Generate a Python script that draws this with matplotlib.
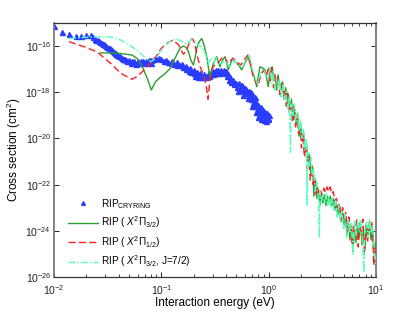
import numpy as np
import matplotlib
matplotlib.use("Agg")
import matplotlib.pyplot as plt
from matplotlib.ticker import LogLocator, NullFormatter, FixedLocator

plt.rcParams['font.family'] = ['Liberation Sans', 'DejaVu Sans']
plt.rcParams['mathtext.fontset'] = 'custom'
plt.rcParams['mathtext.rm'] = 'Liberation Sans'
plt.rcParams['mathtext.it'] = 'Liberation Sans:italic'
plt.rcParams['mathtext.bf'] = 'Liberation Sans:bold'

# ---------------- data (energies in eV, log10 of cross section in cm^2) -------------
cry_E = [0.0100, 0.0118, 0.0139, 0.0160, 0.0178, 0.0198, 0.0219, 0.0240, 0.0255, 0.0270,
         0.0285, 0.0300, 0.0315, 0.0330, 0.0345, 0.0360, 0.0375, 0.0390, 0.0410, 0.0430,
         0.0450, 0.0470, 0.0500, 0.053, 0.056, 0.060, 0.064, 0.068, 0.072, 0.076,
         0.080, 0.085, 0.090, 0.095, 0.100, 0.107, 0.115, 0.123, 0.132, 0.141,
         0.150, 0.160, 0.170, 0.180, 0.190, 0.200, 0.212, 0.225, 0.240, 0.255,
         0.270, 0.290, 0.310, 0.330, 0.350, 0.370, 0.390, 0.410, 0.430, 0.450,
         0.480, 0.510, 0.540, 0.570, 0.600, 0.630, 0.660, 0.690, 0.720, 0.750,
         0.780, 0.820, 0.860, 0.900, 0.950, 0.990,
         0.052, 0.058, 0.065, 0.072, 0.080, 0.110, 0.125, 0.140, 0.155, 0.170,
         0.185, 0.200, 0.215, 0.230, 0.250, 0.280, 0.300, 0.320, 0.340, 0.360,
         0.380, 0.400, 0.420, 0.440, 0.465, 0.495,
         0.520, 0.580, 0.640, 0.700, 0.730, 0.760, 0.800, 0.840, 0.880, 0.920,
         0.960, 0.760, 0.800, 0.850, 0.900, 0.950, 1.000, 0.700, 0.660, 0.620,
         0.560, 0.530, 0.600, 0.680, 0.740, 0.820, 0.870, 0.930, 0.980,
         0.0232, 0.0248, 0.0262, 0.0278, 0.0292, 0.0308, 0.0322, 0.0338, 0.0352, 0.0368,
         0.0382, 0.0400, 0.0420, 0.0440, 0.0460, 0.0480,
         0.205, 0.218, 0.232, 0.247, 0.262, 0.280, 0.300, 0.320, 0.345]
cry_logS = [-15.15, -15.37, -15.46, -15.56, -15.57, -15.54, -15.50, -15.68, -15.75, -15.83,
            -15.90, -15.97, -16.03, -16.10, -16.15, -16.25, -16.30, -16.38, -16.45, -16.52,
            -16.56, -16.60, -16.62, -16.64, -16.65, -16.66, -16.65, -16.64, -16.63, -16.62,
            -16.60, -16.56, -16.50, -16.52, -16.58, -16.65, -16.70, -16.73, -16.76, -16.80,
            -16.84, -16.90, -17.00, -17.07, -17.13, -17.18, -17.25, -17.30, -17.30, -17.28,
            -17.25, -17.20, -17.15, -17.12, -17.12, -17.14, -17.18, -17.30, -17.45, -17.55,
            -17.65, -17.75, -17.85, -17.92, -17.97, -18.05, -18.15, -18.30, -18.45, -18.60,
            -18.75, -18.85, -18.95, -19.00, -19.05, -19.10,
            -16.74, -16.76, -16.75, -16.73, -16.72, -16.60, -16.64, -16.70, -16.76, -16.86,
            -16.95, -17.05, -17.12, -17.18, -17.22, -17.16, -17.08, -17.04, -17.02, -17.03,
            -17.05, -17.08, -17.20, -17.35, -17.48, -17.58,
            -17.95, -18.10, -18.25, -18.15, -18.35, -18.40, -18.55, -18.65, -18.75, -18.85,
            -18.90, -18.85, -19.05, -19.15, -19.20, -19.25, -19.00, -18.60, -17.95, -17.85,
            -17.70, -17.62, -17.80, -18.00, -18.20, -18.70, -18.80, -18.95, -19.15,
            -15.62, -15.72, -15.79, -15.87, -15.93, -16.00, -16.07, -16.13, -16.20, -16.28,
            -16.34, -16.42, -16.49, -16.54, -16.58, -16.63,
            -17.28, -17.33, -17.36, -17.35, -17.32, -17.28, -17.22, -17.18, -17.18]

x32_E = [0.0272, 0.0340, 0.0419, 0.0537, 0.0600, 0.0665, 0.0740, 0.0807, 0.0880, 0.0973,
         0.108, 0.1205, 0.135, 0.149, 0.160, 0.170, 0.179, 0.190, 0.199, 0.207,
         0.215, 0.226, 0.238, 0.250, 0.265, 0.275, 0.284, 0.295, 0.305, 0.328,
         0.352, 0.372, 0.393, 0.421, 0.453, 0.480, 0.505, 0.530, 0.561, 0.605,
         0.647, 0.695, 0.740, 0.774, 0.800, 0.830, 0.880, 0.925, 0.960, 0.990,
         1.04, 1.08, 1.12, 1.15, 1.19, 1.22, 1.26, 1.31, 1.35, 1.39,
         1.44, 1.49, 1.53, 1.58, 1.63, 1.69, 1.74, 1.80, 1.86, 1.92,
         1.98, 2.04, 2.11, 2.18, 2.25, 2.32, 2.40, 2.48, 2.56, 2.64,
         2.73, 2.82, 2.91, 3.00, 3.10, 3.20, 3.30, 3.41, 3.52, 3.64,
         3.76, 3.88, 4.00, 4.14, 4.27, 4.41, 4.56, 4.71, 4.86, 5.02,
         5.19, 5.36, 5.53, 5.71, 5.90, 6.10, 6.30, 6.50, 6.71, 6.93,
         7.16, 7.40, 7.64, 7.89, 8.15, 8.42, 8.70, 8.98, 9.28, 9.58, 9.90, 10.0]
x32_logS = [-16.29, -16.30, -16.32, -16.39, -16.55, -16.90, -17.40, -17.90, -17.55, -17.36,
            -17.20, -16.97, -16.50, -16.10, -16.00, -16.05, -16.25, -16.65, -16.82, -16.45,
            -16.05, -15.80, -15.67, -15.95, -16.46, -16.95, -17.33, -17.00, -16.75, -16.46,
            -16.90, -16.60, -16.46, -17.03, -16.60, -16.65, -16.75, -16.85, -17.03, -16.70,
            -16.46, -17.03, -17.40, -17.76, -17.30, -16.90, -16.95, -17.03, -17.40, -17.76,
            -17.00, -16.90, -17.50, -17.30, -17.90, -17.25, -17.60, -17.90, -17.55, -18.30,
            -17.80, -18.50, -18.10, -18.80, -18.30, -19.20, -18.70, -19.40, -18.90, -19.90,
            -19.30, -20.10, -19.70, -20.60, -20.20, -21.10, -20.70, -21.60, -21.20, -22.50,
            -21.80, -22.60, -22.20, -22.90, -22.40, -22.80, -22.45, -22.90, -22.50, -22.80,
            -22.50, -22.90, -22.60, -23.10, -22.80, -23.30, -22.90, -23.60, -23.10, -23.80,
            -23.30, -24.20, -23.50, -24.40, -23.70, -24.90, -23.90, -24.50, -23.70, -24.30,
            -23.60, -24.60, -23.90, -24.80, -23.70, -24.20, -23.60, -24.40, -24.00, -25.00, -24.50, -24.60]

x12_E = [0.0138, 0.0191, 0.0252, 0.0337, 0.0419, 0.0533, 0.0600, 0.0690, 0.0855, 0.0980,
         0.110, 0.128, 0.145, 0.160, 0.172, 0.185, 0.195, 0.205, 0.215, 0.230,
         0.248, 0.262, 0.272, 0.282, 0.295, 0.314, 0.340, 0.380, 0.420, 0.466,
         0.510, 0.550, 0.590, 0.640, 0.680, 0.710, 0.750, 0.795, 0.840, 0.890, 0.950,
         1.00, 1.03, 1.07, 1.11, 1.14, 1.18, 1.23, 1.27, 1.32, 1.37,
         1.42, 1.46, 1.51, 1.56, 1.61, 1.66, 1.72, 1.78, 1.84, 1.90,
         1.96, 2.02, 2.08, 2.15, 2.22, 2.29, 2.36, 2.44, 2.52, 2.60,
         2.68, 2.77, 2.86, 2.96, 3.06, 3.16, 3.27, 3.38, 3.50, 3.62,
         3.74, 3.87, 4.00, 4.13, 4.28, 4.42, 4.57, 4.73, 4.89, 5.06,
         5.23, 5.41, 5.59, 5.78, 5.98, 6.18, 6.39, 6.61, 6.83, 7.06,
         7.30, 7.55, 7.80, 8.07, 8.35, 8.63, 8.92, 9.22, 9.53, 9.85, 10.0]
x12_logS = [-15.81, -16.03, -16.25, -16.75, -17.18, -17.44, -17.30, -17.04, -16.60, -16.15,
            -15.90, -15.74, -15.95, -16.35, -16.20, -15.75, -15.67, -15.90, -16.40, -16.90,
            -17.25, -17.70, -18.30, -17.60, -17.00, -16.82, -16.70, -16.43, -16.75, -16.52,
            -16.70, -16.82, -16.60, -16.39, -16.80, -17.25, -17.50, -17.73, -17.30, -17.04, -17.30,
            -16.90, -17.50, -16.95, -17.80, -17.20, -17.70, -17.30, -18.10, -17.60, -18.00,
            -17.90, -18.60, -18.00, -18.90, -18.40, -19.30, -18.60, -19.50, -19.00, -19.80,
            -19.40, -20.40, -19.80, -20.80, -20.30, -21.30, -20.80, -21.80, -21.30, -22.00,
            -21.70, -22.50, -22.10, -22.40, -22.20, -22.50, -22.15, -22.35, -22.10, -22.30,
            -22.10, -22.40, -22.30, -22.70, -22.60, -23.00, -22.80, -23.50, -23.00, -23.60,
            -23.20, -24.10, -23.40, -23.90, -24.60, -23.80, -24.10, -23.50, -24.70, -23.70,
            -24.00, -23.50, -25.00, -23.80, -24.50, -23.60, -24.00, -23.60, -25.50, -24.80, -25.10]

j72_E = [0.0138, 0.0200, 0.0250, 0.0310, 0.0360, 0.0420, 0.0500, 0.0590, 0.0690, 0.0800,
         0.0900, 0.1000, 0.1100, 0.1250, 0.1400, 0.1550, 0.1700, 0.1850, 0.1950, 0.2050,
         0.2200, 0.2400, 0.2600, 0.2750, 0.2900, 0.3100, 0.3300, 0.3600, 0.3900, 0.4300,
         0.4700, 0.5200, 0.5700, 0.6200, 0.6600, 0.7000, 0.7500, 0.7900, 0.8400, 0.9000, 0.9500,
         1.00, 1.03, 1.07, 1.10, 1.14, 1.18, 1.22, 1.26, 1.30, 1.35,
         1.40, 1.45, 1.50, 1.55, 1.60, 1.62, 1.68, 1.73, 1.79, 1.85,
         1.91, 1.97, 2.03, 2.10, 2.17, 2.24, 2.28, 2.31, 2.39, 2.47,
         2.55, 2.63, 2.72, 2.81, 2.90, 2.97, 3.00, 3.10, 3.21, 3.32,
         3.43, 3.55, 3.67, 3.79, 3.92, 4.06, 4.20, 4.35, 4.50, 4.65,
         4.81, 4.98, 5.15, 5.33, 5.51, 5.70, 5.90, 6.10, 6.31, 6.53,
         6.75, 6.98, 7.22, 7.47, 7.72, 7.85, 8.12, 8.40, 8.69, 8.99,
         9.30, 9.62, 9.95, 10.0]
j72_logS = [-15.67, -15.62, -15.60, -15.60, -15.62, -15.74, -15.95, -16.17, -16.46, -16.68,
            -16.50, -16.17, -15.95, -15.74, -15.70, -15.80, -15.92, -15.78, -15.68, -15.75,
            -15.95, -16.05, -16.40, -16.80, -16.50, -16.70, -16.50, -16.80, -16.55, -16.90,
            -16.60, -16.80, -16.90, -16.55, -16.40, -16.95, -17.40, -17.65, -17.10, -17.00, -17.35,
            -17.30, -16.90, -17.60, -17.10, -17.90, -17.40, -17.80, -17.40, -18.20, -17.70,
            -18.30, -18.00, -18.70, -18.20, -20.60, -18.50, -19.00, -18.50, -19.30, -18.90,
            -19.70, -19.20, -20.00, -19.60, -20.50, -20.00, -22.90, -20.60, -21.20, -20.80,
            -21.70, -21.30, -22.30, -21.90, -22.60, -24.30, -22.30, -22.70, -22.40, -22.80,
            -22.40, -22.90, -22.50, -23.00, -22.60, -23.10, -22.70, -23.40, -22.90, -23.60,
            -23.10, -23.90, -23.30, -24.30, -23.50, -24.10, -23.70, -25.00, -23.60, -24.20,
            -23.50, -24.00, -23.50, -24.30, -25.80, -24.00, -23.60, -24.30, -23.50, -24.10,
            -23.70, -24.80, -25.40, -25.30]

labels = ['RIP$_{\\mathrm{CRYRING}}$',
          'RIP ( $X^2\\Pi_{3/2}$)',
          'RIP ( $X^2\\Pi_{1/2}$)',
          'RIP ( $X^2\\Pi_{3/2}$, J=7/2)']
xlabel = 'Interaction energy (eV)'
ylabel = 'Cross section (cm$^2$)'

# ---------------- figure ----------------
fig = plt.figure(figsize=(4.15, 3.13), dpi=100)
ax = fig.add_axes([54/415, 36/313, 322/415, 254/313])

blue = '#2a3cff'
green = '#2e9e2e'
red = '#ff1e1e'
cyan = '#55ffbb'

ax.plot(cry_E, 10.0**np.array(cry_logS), linestyle='none', marker='^', ms=3.6,
        color=blue, mec=blue, label=labels[0], zorder=2)
ax.plot(x32_E, 10.0**np.array(x32_logS), '-', color=green, lw=1.0, label=labels[1], zorder=3)
ax.plot(x12_E, 10.0**np.array(x12_logS), color=red, lw=1.0, dashes=(5, 2.5),
        label=labels[2], zorder=4)
ax.plot(j72_E, 10.0**np.array(j72_logS), color=cyan, lw=1.0, dashes=(5, 1.5, 1, 1.5),
        label=labels[3], zorder=5)

ax.set_xscale('log')
ax.set_yscale('log')
ax.set_xlim(1e-2, 1e1)
ax.set_ylim(1e-26, 1e-15)
ax.yaxis.set_major_locator(FixedLocator([1e-26, 1e-24, 1e-22, 1e-20, 1e-18, 1e-16]))
ax.yaxis.set_minor_locator(FixedLocator([]))
ax.xaxis.set_major_locator(LogLocator(base=10))
ax.xaxis.set_minor_locator(LogLocator(base=10, subs=np.arange(2, 10)))
ax.xaxis.set_minor_formatter(NullFormatter())

ax.tick_params(which='both', direction='in', top=True, right=True, labelsize=7.5,
               colors='#222222')
ax.tick_params(axis='y', pad=2)
ax.tick_params(axis='x', pad=4.5)
ax.tick_params(which='major', length=3.5, width=0.7)
ax.tick_params(which='minor', length=2, width=0.6)

for s in ['left', 'right']:
    ax.spines[s].set_color('#7a7a7a')
    ax.spines[s].set_linewidth(1.3)
for s in ['top', 'bottom']:
    ax.spines[s].set_color('#333333')
    ax.spines[s].set_linewidth(0.9)

ax.set_xlabel(xlabel, fontsize=8.5)
ax.set_ylabel(ylabel, fontsize=8.5)
ax.xaxis.set_label_coords(0.5, -0.08)
ax.yaxis.set_label_coords(-0.096, 0.5)

leg = ax.legend(loc='lower left', bbox_to_anchor=(0.042, 0.03), frameon=False,
                fontsize=7.2, handlelength=3.0, handletextpad=0.3, labelspacing=0.38,
                borderpad=0, borderaxespad=0, markerscale=0.75)

fig.savefig('out.png', dpi=100)
